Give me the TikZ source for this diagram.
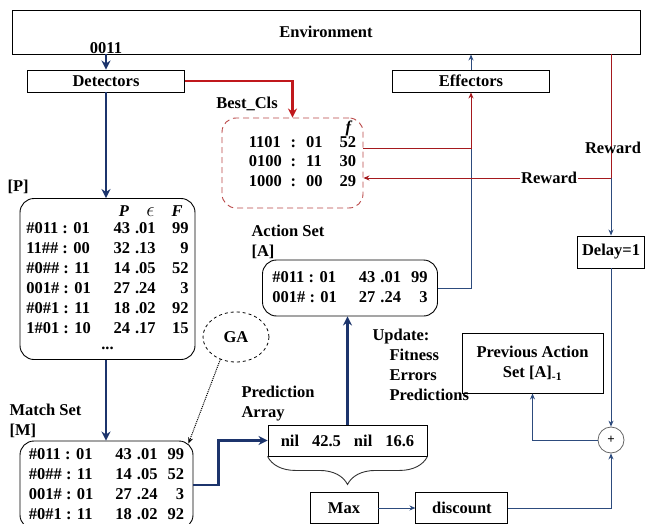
\documentclass[tikz,border=0pt]{standalone}
\usepackage{fontspec}
\setmainfont{Liberation Serif}
\usetikzlibrary{positioning,shapes.geometric,decorations.pathreplacing,arrows.meta}

\definecolor{navyline}{RGB}{28,52,108}
\definecolor{thinblue}{RGB}{45,75,125}
\definecolor{redline}{RGB}{192,24,28}
\definecolor{thinred}{RGB}{165,25,30}
\definecolor{dashred}{RGB}{185,70,70}

\newcommand{\clrows}[1]{\begin{tabular}{@{}l@{\hspace{22pt}}r@{\hspace{5pt}}r@{\hspace{10pt}}r@{}}#1\end{tabular}}

\tikzset{
  blk/.style={draw, rectangle, line width=0.9pt, inner sep=2pt},
  clset/.style={draw, rounded corners=14pt, line width=0.9pt, inner sep=4pt},
  thickflow/.style={draw=navyline, line width=2.4pt, >={Stealth[length=9pt,width=9pt]}},
  thinflow/.style={draw=thinblue, line width=1pt, >={Stealth[length=6pt,width=5pt]}},
  redflow/.style={draw=thinred, line width=1pt, >={Stealth[length=6pt,width=5pt]}},
}

\begin{document}
\begin{tikzpicture}[x=1pt,y=-1pt,>=stealth,font=\fontsize{16.5}{20}\selectfont\bfseries]
\useasboundingbox (0,0) rectangle (645,524);

\node[blk,minimum width=628pt,minimum height=44pt] (env) at (326,32) {Environment};
\node[blk,minimum width=157pt,minimum height=22pt] (det) at (106,81) {Detectors};
\node[blk,minimum width=157pt,minimum height=22pt] (eff) at (471,81) {Effectors};

% population
\node[anchor=west] (plbl) at (4,187) {[P]};
\node[clset,minimum width=175pt,minimum height=158pt] (P) at (107.5,279) {\clrows{
 & \multicolumn{1}{c}{\textit{P}} & \multicolumn{1}{c}{{\fontsize{21}{20}\selectfont$\epsilon$}} & \multicolumn{1}{c}{\textit{F}}\\[-3pt]
\#011 : 01 & 43 & .01 & 99\\
11\#\# : 00 & 32 & .13 & 9\\
\#0\#\# : 11 & 14 & .05 & 52\\
001\# : 01 & 27 & .24 & 3\\
\#0\#1 : 11 & 18 & .02 & 92\\
1\#01 : 10 & 24 & .17 & 15\\[-4pt]
\multicolumn{4}{c}{...}}};

% match set
\node[anchor=west,align=left] (mlbl) at (6,421) {Match Set\\{[M]}};
\node[clset,minimum width=173pt,minimum height=88pt] (M) at (106.5,485) {\clrows{
\#011 : 01 & 43 & .01 & 99\\
\#0\#\# : 11 & 14 & .05 & 52\\
001\# : 01 & 27 & .24 & 3\\
\#0\#1 : 11 & 18 & .02 & 92}};

% best classifiers
\node (bestlbl) at (247,104) {Best\_Cls};
\node[clset,dashed,draw=dashred,dash pattern=on 6pt off 4pt,minimum width=141pt,minimum height=90pt] (best) at (292.5,163) {\begin{tabular}{@{\hspace{20pt}}l@{\hspace{9pt}}c@{\hspace{10pt}}l@{\hspace{17pt}}r@{}}
1101 & : & 01 & 52\\
0100 & : & 11 & 30\\
1000 & : & 00 & 29\end{tabular}};
\node (fhdr) at (349,128) {\textit{f}};

% action set
\node[anchor=west,align=left] (albl) at (248,242) {Action Set\\{[A]}};
\node[clset,minimum width=175pt,minimum height=56pt] (act) at (350,288) {\clrows{
\#011 : 01 & 43 & .01 & 99\\
001\# : 01 & 27 & .24 & 3}};

\node[ellipse,draw,dashed,line width=0.8pt,minimum width=66pt,minimum height=50pt] (ga) at (236,337) {GA};

\node[anchor=north west,align=left] (upd) at (369,326) {Update:\\\hspace*{17pt}Fitness\\\hspace*{17pt}Errors\\\hspace*{17pt}Predictions};

\node[anchor=west,align=left] (prlbl) at (238,404) {Prediction\\Array};
\node[blk,minimum width=159pt,minimum height=31pt] (pa) at (347.5,440.5) {nil\hspace{13pt}42.5\hspace{13pt}nil\hspace{13pt}16.6};

\node[blk,minimum width=68pt,minimum height=31pt] (max) at (344,508) {Max};
\node[blk,minimum width=92pt,minimum height=31pt,right=37pt of max] (disc) {discount};

\node[blk,minimum width=141pt,minimum height=60pt,align=center] (prev) at (532.5,363) {Previous Action\\Set [A]\textsubscript{-1}};
\node[blk,minimum width=67pt,minimum height=32pt] (delay) at (611,252) {Delay=1};
\node[circle,draw=black!60,line width=0.8pt,minimum size=26pt,inner sep=0pt,font=\fontsize{13}{13}\selectfont\bfseries] (plus) at (611,440) {+};

\coordinate (rwd) at (611,178);
\coordinate (bestout) at ([shift={(0,-14)}]best.east);

% connectors
\node[anchor=south,inner sep=1pt] (inp) at (det.north |- env.south) {0011};
\draw[thickflow,->] (inp.south) -- (det.north);
\draw[thickflow,->] (det.south) -- (det.south |- P.north);
\draw[thickflow,->] (P.south -| det.south) -- (M.north -| det.south);
\draw[draw=redline,line width=2.4pt,->,>={Stealth[length=9pt,width=9pt]}] (det.east) -| (best.north);
\draw[redflow,->] (bestout) -| (eff.south);
\draw[thinflow] (act.east) -| (bestout -| eff.south);
\draw[thinflow,->] (eff.north) -- (eff.north |- env.south);
\draw[redflow] (rwd |- env.south) -- (rwd);
\draw[redflow,->] (rwd) -- node[pos=0.25,fill=white,inner sep=1pt] (rwh) {Reward} (rwd -| best.east);
\node (rwv) at (613,148) {Reward};
\draw[thinflow,->] (rwd) -- (delay.north);
\draw[thinflow,->] (delay.south) -- (plus.north);
\draw[thinflow,->] (plus.west) -| (prev.south);
\draw[thinflow,->] (max) -- (disc);
\draw[thinflow,->] (disc.east) -| (plus.south);
\draw[thickflow,->] (M.east) -- ++(25,0) |- (pa.west);
\draw[thickflow,->] (pa.north) -- (pa.north |- act.south);
\draw[densely dotted,line width=1pt,->,>={Stealth[length=6pt,width=5pt]}] (ga.235) -- ([shift={(-5,3)}]M.north east);
\draw[decorate,decoration={brace,mirror,amplitude=28pt},draw=black!80,line width=0.9pt] (pa.south west) -- (pa.south east);
\end{tikzpicture}
\end{document}
